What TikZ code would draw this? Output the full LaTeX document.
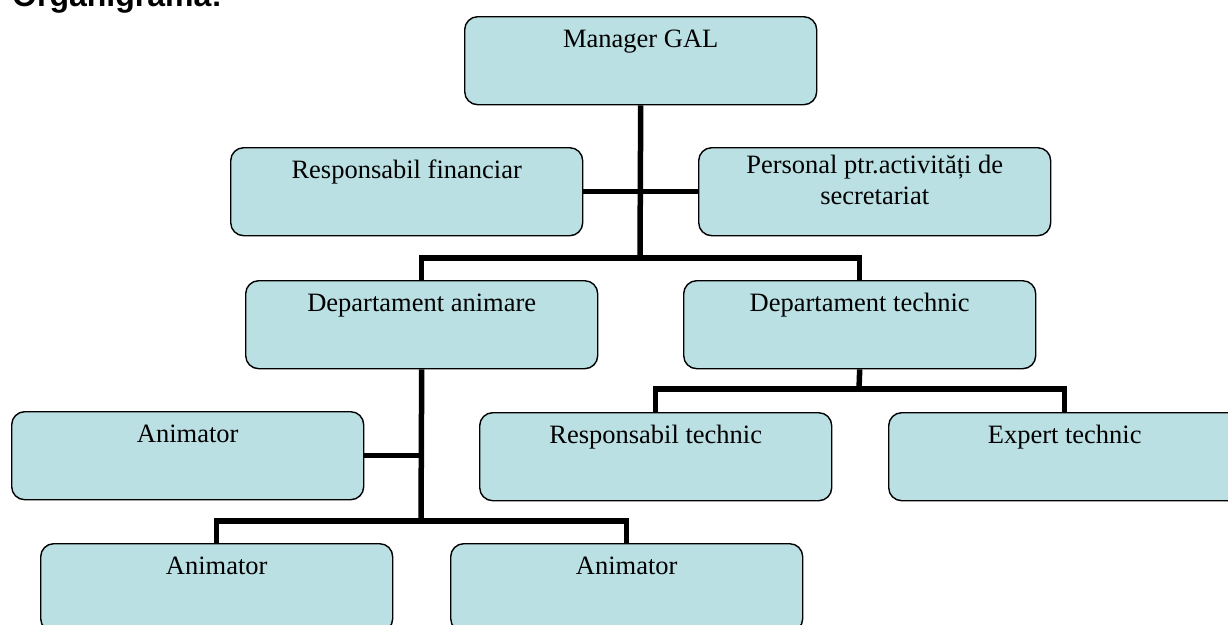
\documentclass[tikz,border=0pt]{standalone}
\usepackage{fontspec}
\setmainfont{Liberation Serif}
\newfontfamily\arialfont{Liberation Sans}
\definecolor{boxfill}{RGB}{186,224,227}
\newcommand{\bxtext}[1]{\parbox[t][88pt][t]{352pt}{\centering\fontsize{26.5}{31}\selectfont\rule{0pt}{31pt}#1}}
\begin{document}
\begin{tikzpicture}[x=1pt,y=-1pt,
  orgbox/.style={draw=black, line width=1.4pt, fill=boxfill, rounded corners=13pt,
    inner sep=0pt, minimum width=352pt, minimum height=88pt, anchor=north west},
  conn/.style={draw=black, line width=5.5pt, line join=miter}]
\useasboundingbox (0,0) rectangle (1228,624);
\node[anchor=base west, font=\arialfont\bfseries\fontsize{32}{38}\selectfont, inner sep=0pt] (title) at (12,6) {Organigrama:};
\node[orgbox] (mgr) at (464,16) {\bxtext{Manager GAL}};
\node[orgbox] (fin) at (230,147) {\bxtext{Responsabil financiar}};
\node[orgbox] (sec) at (698,147) {\parbox[t][88pt][t]{352pt}{\centering\fontsize{26.5}{31}\selectfont\rule{0pt}{26pt}Personal ptr.activități de\\secretariat}};
\node[orgbox] (dan) at (245,280) {\bxtext{Departament animare}};
\node[orgbox] (dtech) at (683,280) {\bxtext{Departament technic}};
\node[orgbox] (ani1) at (11,411) {\bxtext{Animator}};
\node[orgbox] (rt) at (479,412) {\bxtext{Responsabil technic}};
\node[orgbox] (et) at (888,412) {\bxtext{Expert technic}};
\node[orgbox] (ani2) at (40,543) {\bxtext{Animator}};
\node[orgbox] (ani3) at (450,543) {\bxtext{Animator}};
\coordinate (b1) at (640,258);
\coordinate (b2) at (421,521);
\coordinate (b3) at (859,389);
\draw[conn] (mgr.south) -- (b1);
\draw[conn] (fin.east) -- (sec.west);
\draw[conn] (dan.north) |- (b1) -| (dtech.north);
\draw[conn] (dan.south) -- (b2);
\draw[conn] (ani1.east) -- (ani1.east -| dan.south);
\draw[conn] (ani2.north) |- (b2) -| (ani3.north);
\draw[conn] (dtech.south) -- (b3);
\draw[conn] (rt.north) |- (b3) -| (et.north);
\end{tikzpicture}
\end{document}
